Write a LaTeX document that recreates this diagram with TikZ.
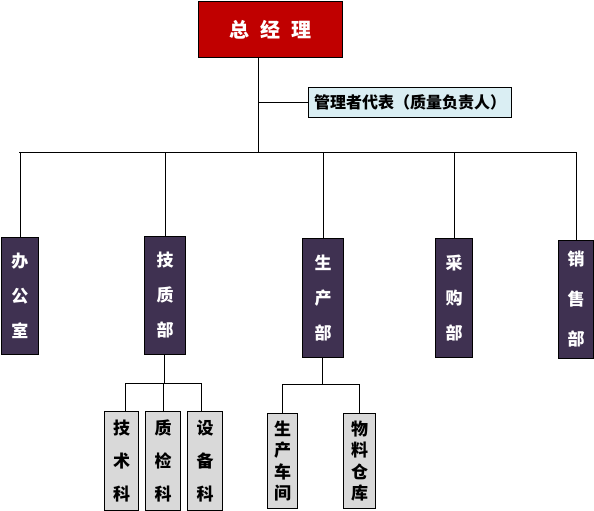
\documentclass[tikz,border=0pt]{standalone}
\usepackage{fontspec}
\setmainfont{Noto Sans CJK SC}
\begin{document}
\begin{tikzpicture}[x=1pt,y=-1pt,
  box/.style={draw=black, line width=1pt, inner sep=0pt, anchor=north west, align=center},
  topbox/.style={box, fill=topred, text=white, font=\bfseries\fontsize{20}{24}\selectfont},
  repbox/.style={box, fill=replight, text=black, font=\bfseries\fontsize{16}{20}\selectfont},
  deptbox/.style={box, fill=deptpurple, text=white, font=\bfseries\fontsize{17}{35}\selectfont},
  subbox/.style={box, fill=subgray, text=black, font=\bfseries\fontsize{17}{33}\selectfont},
  conn/.style={draw=black, line width=0.8pt}
]
\definecolor{topred}{HTML}{C00000}
\definecolor{replight}{HTML}{DAEEF3}
\definecolor{deptpurple}{HTML}{3F3151}
\definecolor{subgray}{HTML}{D9D9D9}
\useasboundingbox (0,0) rectangle (594,511);

% top
\node[topbox, minimum width=144, minimum height=56] (zjl) at (198,1) {总\hspace{11pt}经\hspace{11pt}理};
\node[repbox, minimum width=203, minimum height=30] (rep) at (308,87) {管理者代表（质量负责人）};

% departments
\node[deptbox, minimum width=37, minimum height=117] (bgs) at (1,237) {办\\公\\室};
\node[deptbox, minimum width=41, minimum height=118] (jzb) at (144,236) {技\\质\\部};
\node[deptbox, minimum width=41, minimum height=119] (scb) at (302,238) {生\\产\\部};
\node[deptbox, minimum width=37, minimum height=119] (cgb) at (435,238) {采\\购\\部};
\node[deptbox, minimum width=35, minimum height=118, font=\bfseries\fontsize{17}{40}\selectfont] (xsb) at (558,240) {销\\售\\部};

% sub units
\node[subbox, minimum width=34, minimum height=99] (jsk) at (104,411) {技\\术\\科};
\node[subbox, minimum width=35, minimum height=99] (zjk) at (145,411) {质\\检\\科};
\node[subbox, minimum width=35, minimum height=99] (sbk) at (187,411) {设\\备\\科};
\node[subbox, minimum width=30, minimum height=95, font=\bfseries\fontsize{17}{21.5}\selectfont] (sccj) at (267,413) {生\\产\\车\\间};
\node[subbox, minimum width=32, minimum height=95, font=\bfseries\fontsize{17}{21.5}\selectfont] (wlck) at (343,413) {物\\料\\仓\\库};

% connectors
\coordinate (busL) at (19,152);
\coordinate (busR) at (576,152);
\coordinate (busTop) at (258,152);
\draw[conn] (zjl.south -| busTop) -- (busTop);
\draw[conn] (busL) -- (busR);
\draw[conn] (rep.west) -- (rep.west -| busTop);
\draw[conn] (bgs.north) -- (bgs.north |- busL);
\draw[conn] (jzb.north) -- (jzb.north |- busL);
\draw[conn] (scb.north) -- (scb.north |- busL);
\draw[conn] (cgb.north) -- (cgb.north |- busL);
\draw[conn] (xsb.north) -- (xsb.north |- busL);

\coordinate (jzbus) at (164,383);
\coordinate (jzL) at (125,383);
\coordinate (jzR) at (201,383);
\draw[conn] (jzb.south -| jzbus) -- (jzbus);
\draw[conn] (jzL) -- (jzR);
\draw[conn] (jsk.north -| jzL) -- (jzL);
\draw[conn] (zjk.north) -- (zjk.north |- jzbus);
\draw[conn] (sbk.north -| jzR) -- (jzR);

\coordinate (scbus) at (322,384);
\draw[conn] (scb.south -| scbus) -- (scbus);
\draw[conn] (sccj.north |- scbus) -- (wlck.north |- scbus);
\draw[conn] (sccj.north) -- (sccj.north |- scbus);
\draw[conn] (wlck.north) -- (wlck.north |- scbus);
\end{tikzpicture}
\end{document}
